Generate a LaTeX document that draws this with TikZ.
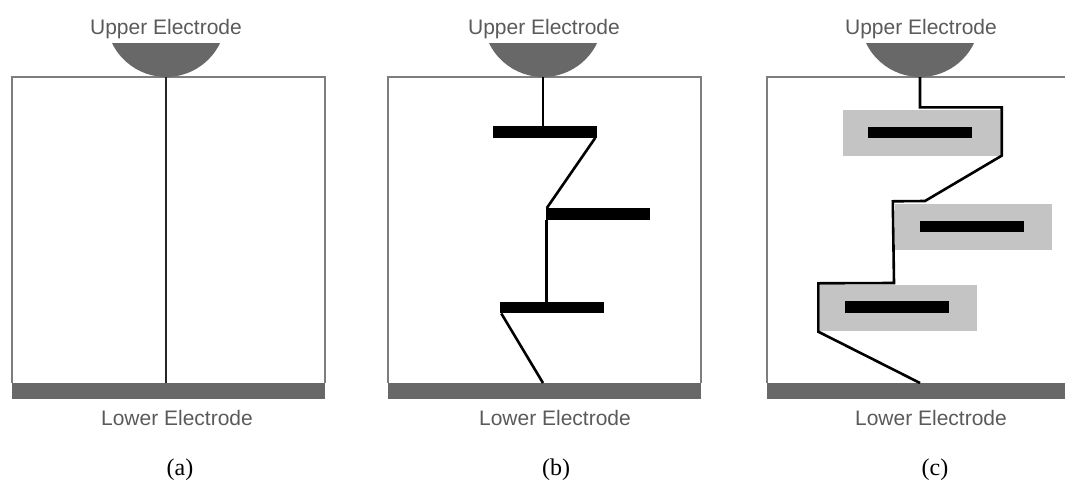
\documentclass[tikz,border=0pt]{standalone}
\usepackage{fontspec}
\setmainfont{Liberation Serif}
\newfontfamily\elecfont{Liberation Sans}
\begin{document}
\begin{tikzpicture}[x=1pt,y=-1pt,
  frame/.style={draw=framegray, line width=1.4pt},
  electrode/.style={fill=elecgray},
  lowerelec/.style={fill=elecgray, draw=none, inner sep=0pt, minimum height=16pt, anchor=north west},
  plate/.style={fill=black, draw=none, inner sep=0pt, minimum width=104pt, minimum height=11.5pt},
  trapbox/.style={fill=trapgray, draw=none, inner sep=0pt, minimum width=157pt, minimum height=46pt},
  filament/.style={line width=2.6pt, black, line join=miter},
  elabel/.style={font=\elecfont\fontsize{21}{24}\selectfont, text=labelgray, anchor=base, inner sep=0pt},
  sublabel/.style={font=\fontsize{24}{28}\selectfont, anchor=base, inner sep=0pt}
]
\definecolor{framegray}{HTML}{7E7E7E}
\definecolor{elecgray}{HTML}{686868}
\definecolor{trapgray}{HTML}{C4C4C4}
\definecolor{labelgray}{HTML}{5A5A5A}
\useasboundingbox (0,0) rectangle (1065,482);
\clip (0,0) rectangle (1065,482);

% upper electrode: a circular segment hanging from the label
\newcommand{\upperelectrode}[2]{%
  \fill[electrode] (#1-54,43) arc[start angle=205.7, end angle=334.3, radius=60pt] -- cycle;
  \coordinate (#2) at (#1,77);}

% ---------------- (a) ----------------
\draw[frame] (12,383) -- (12,77) -- (325,77) -- (325,383);
\node[lowerelec, minimum width=313pt] (la) at (12,383) {};
\upperelectrode{166}{ua}
\node[elabel] (uta) at (166,34) {Upper Electrode};
\node[elabel] (lta) at (177,425) {Lower Electrode};
\node[sublabel] (capa) at (180,475) {(a)};
\draw[line width=2.6pt, draw=black!85] (ua) -- (ua |- la.north);

% ---------------- (b) ----------------
\draw[frame] (388,383) -- (388,77) -- (701,77) -- (701,383);
\node[lowerelec, minimum width=313pt] (lb) at (388,383) {};
\upperelectrode{543}{ub}
\node[elabel] (utb) at (544,34) {Upper Electrode};
\node[elabel] (ltb) at (555,425) {Lower Electrode};
\node[sublabel] (capb) at (556,475) {(b)};
\node[plate] (b1) at (544.5,132) {};
\node[plate] (b2) at (597.5,214) {};
\node[plate] (b3) at (551.5,307.5) {};
\coordinate (bend) at (543,383);
\draw[filament] (ub) -- (ub |- b1.north);
\draw[filament] ([xshift=-1.5pt]b1.south east) -- ([xshift=1.5pt]b2.north west);
\draw[filament] ([xshift=1.3pt]b2.south west) -- ([xshift=1.3pt]b2.south west |- b3.north);
\draw[filament] ([xshift=2pt]b3.south west) -- (bend);

% ---------------- (c) ----------------
\draw[frame] (767,383) -- (767,77) -- (1080,77) -- (1080,383);
\node[lowerelec, minimum width=313pt] (lc) at (767,383) {};
\upperelectrode{920}{uc}
\node[elabel] (utc) at (921,34) {Upper Electrode};
\node[elabel] (ltc) at (931,425) {Lower Electrode};
\node[sublabel] (capc) at (935,475) {(c)};
\node[trapbox] (t1) at (921,132.5) {};
\node[trapbox] (t2) at (973.5,226.5) {};
\node[trapbox] (t3) at (898.5,307.5) {};
\node[plate] (c1) at (920,132.5) {};
\node[plate] (c2) at (971.5,226.5) {};
\node[plate] (c3) at (896.5,307) {};
\coordinate (k1) at ([shift={(2pt,2pt)}]t1.north east);
\coordinate (k2) at ([shift={(2pt,0pt)}]t1.south east);
\coordinate (k3) at (925,201);
\coordinate (k4) at ([shift={(-2pt,2pt)}]t2.north west);
\coordinate (k5) at (894,283);
\coordinate (k6) at ([shift={(-1.5pt,1pt)}]t3.north west);
\coordinate (k7) at ([shift={(-1.5pt,-1pt)}]t3.south west);
\coordinate (cend) at (920,383);
\draw[filament] (uc) -- (uc |- k1) -- (k1) -- (k2) -- (k3) -- (k4) -- (k5) -- (k6) -- (k7) -- (cend);
\end{tikzpicture}
\end{document}
